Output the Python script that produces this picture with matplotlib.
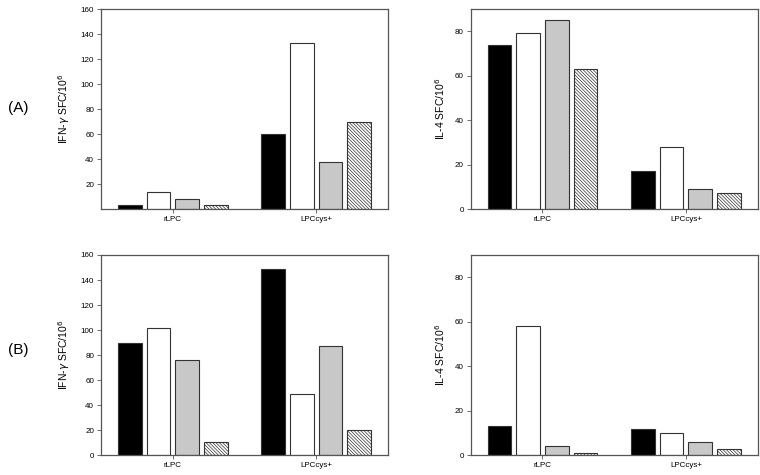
import numpy as np
import matplotlib.pyplot as plt

plt.rcParams['font.family'] = ['Liberation Sans', 'DejaVu Sans']
plt.rcParams['hatch.linewidth'] = 0.5
plt.rcParams['hatch.color'] = '#333333'

# Data
groups = ["rLPC", "LPCcys+"]
ifn_a = [[3, 60], [14, 133], [8, 38], [3, 70]]
il4_a = [[74, 17], [79, 28], [85, 9], [63, 7]]
ifn_b = [[90, 149], [102, 49], [76, 87], [11, 20]]
il4_b = [[13, 12], [58, 10], [4, 6], [1, 3]]

ifn_label = r"IFN-$\gamma$ SFC/10$^6$"
il4_label = r"IL-4 SFC/10$^6$"

fills = ["black", "white", "#c8c8c8", "white"]
hatches = [None, None, None, "\\" * 10]

fig = plt.figure(figsize=(7.6, 4.75), dpi=100)

def panel(rect, series, ylabel, ylim, yticks):
    ax = fig.add_axes(rect)
    x = np.arange(len(groups))
    offsets = [-0.3, -0.1, 0.1, 0.3]
    for vals, off, fc, h in zip(series, offsets, fills, hatches):
        ax.bar(x + off, vals, width=0.165, color=fc, edgecolor="#333333",
               linewidth=0.8, hatch=h)
    ax.set_xlim(-0.5, 1.5)
    ax.set_ylim(*ylim)
    ax.set_yticks(yticks)
    ax.set_xticks(x)
    ax.set_xticklabels(groups)
    ax.set_ylabel(ylabel, fontsize=7.5, labelpad=6)
    ax.tick_params(axis="both", labelsize=5.8, length=3, width=0.6,
                   color="#555555", pad=2)
    for s in ax.spines.values():
        s.set_color("#555555")
        s.set_linewidth(0.9)
    return ax

panel([0.1329, 0.56, 0.3776, 0.421], ifn_a, ifn_label, (0, 160), np.arange(20, 161, 20))
panel([0.6193, 0.56, 0.3776, 0.421], il4_a, il4_label, (0, 90), np.arange(0, 81, 20))
panel([0.1329, 0.0415, 0.3776, 0.4217], ifn_b, ifn_label, (0, 160), np.arange(0, 161, 20))
panel([0.6193, 0.0415, 0.3776, 0.4217], il4_b, il4_label, (0, 90), np.arange(0, 81, 20))

fig.text(18 / 760, 1 - 108 / 475, "(A)", fontsize=11, ha="center", va="center")
fig.text(18 / 760, 1 - 350 / 475, "(B)", fontsize=11, ha="center", va="center")

fig.savefig("out.png", dpi=100)
